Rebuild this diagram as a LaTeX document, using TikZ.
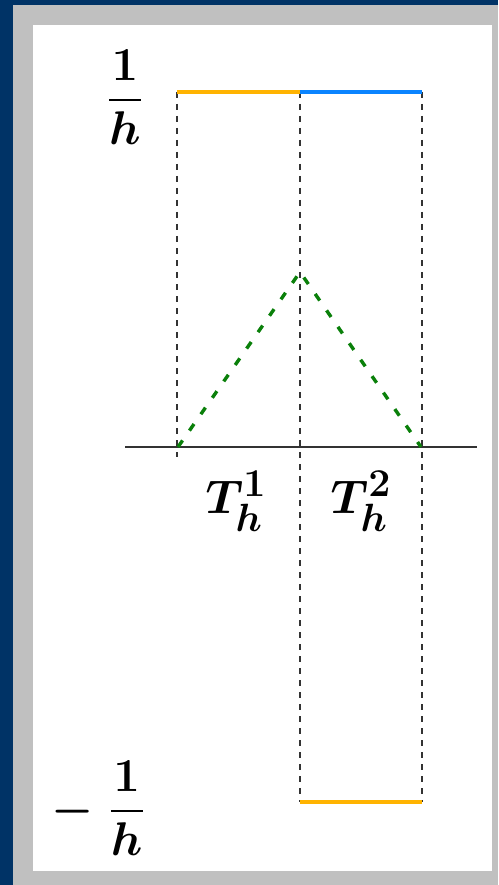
\documentclass[tikz,border=0pt]{standalone}
\usepackage{graphicx}
\usepackage{amsmath,bm}
\definecolor{frameblue}{HTML}{003366}
\definecolor{framegray}{HTML}{C0C0C0}
\definecolor{segorange}{HTML}{FFB300}
\definecolor{segblue}{HTML}{0A84FF}
\definecolor{hatgreen}{HTML}{0A800A}
\definecolor{guide}{HTML}{333333}
\newcommand{\biglab}[1]{\scalebox{1.9}{\Huge #1}}
\tikzset{
  lab/.style={inner sep=0pt},
  guideline/.style={draw=guide, line width=1.2pt, dash pattern=on 6pt off 6pt},
  axisline/.style={draw=black!80, line width=1.3pt},
  seg/.style={line width=4pt},
  hat/.style={draw=hatgreen, line width=3.4pt, dash pattern=on 8pt off 12pt}
}
\begin{document}
\begin{tikzpicture}[x=1pt,y=-1pt]
\fill[frameblue] (0,0) rectangle (498,885);
\fill[framegray] (13,5) rectangle (498,885);
\fill[white] (33,25) rectangle (492,871);
\useasboundingbox (0,0) rectangle (498,885);
% points
\coordinate (t0) at (177,92);
\coordinate (t1) at (300,92);
\coordinate (t2) at (422,92);
\coordinate (a0) at (178,447);
\coordinate (a2) at (421,447);
\coordinate (a0low) at (177,457);
\coordinate (b1) at (300,802);
\coordinate (b2) at (422,802);
\coordinate (peak) at (300,272);
\coordinate (axL) at (125,447);
\coordinate (axR) at (477,447);
% guides
\draw[guideline] (t0) -- (a0low);
\draw[guideline] (t1) -- (b1);
\draw[guideline] (t2) -- (b2);
% axis
\draw[axisline] (axL) -- (axR);
% hat function
\draw[hat] (a0) -- (peak) -- (a2);
% pieces
\draw[seg, segorange] (t0) -- (t1);
\draw[seg, segblue] (t1) -- (t2);
\draw[seg, segorange] (b1) -- (b2);
% labels
\node[lab] (ltop) at (125,97) {\biglab{$\dfrac{\bm{1}}{\bm{h}}$}};
\node[lab, anchor=east] (lbot) at (145,808) {\biglab{$\bm{-}\hspace{8pt}\dfrac{\bm{1}}{\bm{h}}$}};
\node[lab] (T1) at (236,501) {\biglab{$\bm{T_h^1}$}};
\node[lab] (T2) at (361,501) {\biglab{$\bm{T_h^2}$}};
\end{tikzpicture}
\end{document}
